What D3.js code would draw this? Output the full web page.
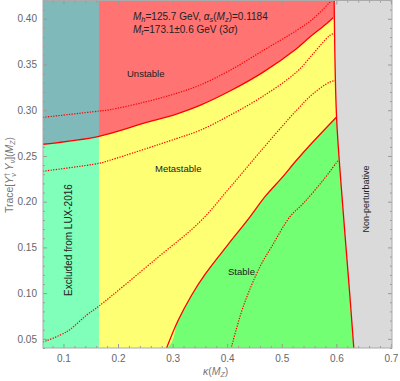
<!DOCTYPE html>
<html>
<head>
<meta charset="utf-8">
<script src="https://cdn.jsdelivr.net/npm/d3@7"></script>
<style>
  body { margin: 0; background: white; }
  svg { display: block; font-family: "Liberation Sans", Arial, sans-serif; }
</style>
</head>
<body>
<svg></svg>
<script>
// curves: kappa(Mz) vs Trace[Y^dag Y](Mz)
const unstableEdgeK = [0.0625, 0.165, 0.246, 0.307, 0.35, 0.405, 0.466, 0.527, 0.5515, 0.582, 0.594];
const unstableEdgeY = [0.2628, 0.2715, 0.2855, 0.2958, 0.3053, 0.321, 0.3417, 0.3673, 0.380, 0.3946, 0.4011];

const stableEdgeK = [0.289, 0.31, 0.335, 0.36, 0.40, 0.44, 0.47, 0.50, 0.527, 0.5515, 0.6004];
const stableEdgeY = [0.04, 0.07, 0.098, 0.121, 0.152, 0.182, 0.206, 0.226, 0.2453, 0.2617, 0.2926];

const perturbEdgeK = [0.596, 0.6004, 0.6095, 0.624, 0.632];
const perturbEdgeY = [0.42, 0.2926, 0.2125, 0.1033, 0.04];

// dotted 3 sigma bands
const dotUpperK = [0.0625, 0.165, 0.185, 0.246, 0.307, 0.35, 0.405, 0.466, 0.527, 0.5575, 0.591];
const dotUpperY = [0.2922, 0.2991, 0.3006, 0.3085, 0.3185, 0.3275, 0.3436, 0.3654, 0.3872, 0.400, 0.42];

const dotMetaK = [0.0625, 0.165, 0.185, 0.307, 0.35, 0.405, 0.466, 0.527, 0.5575, 0.588, 0.5955];
const dotMetaY = [0.2333, 0.242, 0.2453, 0.269, 0.278, 0.2945, 0.3155, 0.3417, 0.3618, 0.3818, 0.384];

const dotLowK = [0.0625, 0.1059, 0.1425, 0.165, 0.2707, 0.35, 0.405, 0.466, 0.527, 0.5575, 0.588, 0.599];
const dotLowY = [0.0465, 0.0578, 0.076, 0.0858, 0.138, 0.178, 0.2155, 0.2585, 0.2999, 0.3181, 0.3308, 0.3326];

const dotStableK = [0.408, 0.4293, 0.46, 0.4813, 0.5148, 0.5392, 0.5758, 0.6033];
const dotStableY = [0.0414, 0.0851, 0.1288, 0.1506, 0.1834, 0.198, 0.2234, 0.2453];

const luxLimit = 0.165;
const xDomain = [0.0625, 0.702];
const yDomain = [0.04, 0.42];
const xTicks = [0.1, 0.2, 0.3, 0.4, 0.5, 0.6, 0.7];
const yTicks = [0.05, 0.10, 0.15, 0.20, 0.25, 0.30, 0.35, 0.40];

const width = 400, height = 381;
const plotL = 43, plotR = 392, plotT = 0.5, plotB = 348;

const svg = d3.select("svg").attr("width", width).attr("height", height);

const x = d3.scaleLinear().domain(xDomain).range([plotL, plotR]);
const y = d3.scaleLinear().domain(yDomain).range([plotB, plotT]);

const pts = (ks, ys) => ks.map((k, i) => [k, ys[i]]);
const line = d3.line().x(d => x(d[0])).y(d => y(d[1]));
const smooth = d3.line().x(d => x(d[0])).y(d => y(d[1])).curve(d3.curveCatmullRom);

svg.append("clipPath").attr("id", "plot")
  .append("rect").attr("x", plotL).attr("y", plotT).attr("width", plotR - plotL).attr("height", plotB - plotT);

const g = svg.append("g").attr("clip-path", "url(#plot)");

const [k0, k1] = xDomain, [y0, y1] = yDomain;

// stable everywhere first, then paint over
g.append("rect").attr("x", plotL).attr("y", plotT).attr("width", plotR - plotL).attr("height", plotB - plotT)
  .attr("fill", "#73ff73");

const stable = pts(stableEdgeK, stableEdgeY);
g.append("path")
  .attr("d", smooth([[k0, y0]].concat(stable)) + line([[0.6004, 0.2926], [k1, 0.2926], [k1, y1], [k0, y1], [k0, y0]]).replace("M", "L"))
  .attr("fill", "#ffff73");

const unstable = pts(unstableEdgeK, unstableEdgeY);
g.append("path")
  .attr("d", smooth(unstable) + line([[0.594, 0.4011], [k1, 0.4011], [k1, y1], [k0, y1]]).replace("M", "L") + "Z")
  .attr("fill", "#ff7373");

const perturb = pts(perturbEdgeK, perturbEdgeY);
g.append("path")
  .attr("d", smooth(perturb) + line([[0.632, y0], [k1 + 0.01, y0], [k1 + 0.01, y1], [0.596, y1]]).replace("M", "L") + "Z")
  .attr("fill", "#dadada");

g.append("rect")
  .attr("x", x(k0)).attr("y", plotT)
  .attr("width", x(luxLimit) - x(k0)).attr("height", plotB - plotT)
  .attr("fill", "rgb(0,255,255)").attr("opacity", 0.5);

[
  [dotUpperK, dotUpperY],
  [dotMetaK, dotMetaY],
  [dotLowK, dotLowY],
  [dotStableK, dotStableY],
].forEach(([ks, ys]) => {
  g.append("path").attr("d", smooth(pts(ks, ys)))
    .attr("fill", "none").attr("stroke", "#ff0000")
    .attr("stroke-width", 1.2).attr("stroke-dasharray", "1.3,1.3");
});

[unstable, stable, perturb].forEach(p => {
  g.append("path").attr("d", smooth(p))
    .attr("fill", "none").attr("stroke", "#ff0000").attr("stroke-width", 1.3);
});

// frame with inward ticks
const tickColor = "#999";
function ticks(axis, transform, labels) {
  const a = svg.append("g").attr("transform", transform).call(axis);
  a.select(".domain").remove();
  a.selectAll("line").attr("stroke", tickColor);
  a.selectAll("text").attr("fill", "#666").style("font-size", "10px")
    .style("display", labels ? null : "none");
}
const yMinor = d3.range(0.04, 0.4201, 0.01).filter(v => !yTicks.some(t => Math.abs(t - v) < 1e-6));
const xMinor = d3.range(0.08, 0.70, 0.02).filter(v => !xTicks.some(t => Math.abs(t - v) < 1e-6));

ticks(d3.axisBottom(x).tickValues(xTicks).tickSize(-4).tickPadding(7).tickFormat(d3.format(".1f")), `translate(0,${plotB})`, true);
ticks(d3.axisBottom(x).tickValues(xMinor).tickSize(-2).tickFormat(""), `translate(0,${plotB})`, false);
ticks(d3.axisTop(x).tickValues(xTicks).tickSize(-4), `translate(0,${plotT})`, false);
ticks(d3.axisTop(x).tickValues(xMinor).tickSize(-2), `translate(0,${plotT})`, false);
ticks(d3.axisLeft(y).tickValues(yTicks).tickSize(-4).tickPadding(6).tickFormat(d3.format(".2f")), `translate(${plotL},0)`, true);
ticks(d3.axisLeft(y).tickValues(yMinor).tickSize(-2).tickFormat(""), `translate(${plotL},0)`, false);
ticks(d3.axisRight(y).tickValues(yTicks).tickSize(-4), `translate(${plotR},0)`, false);
ticks(d3.axisRight(y).tickValues(yMinor).tickSize(-2), `translate(${plotR},0)`, false);

svg.append("rect").attr("x", plotL).attr("y", plotT).attr("width", plotR - plotL).attr("height", plotB - plotT)
  .attr("fill", "none").attr("stroke", "#aaa").attr("stroke-width", 1);

// labels
const ink = "#222";
function label(px, py, size, parts, rotate) {
  const t = svg.append("text").attr("x", px).attr("y", py)
    .attr("fill", ink).style("font-size", size + "px");
  if (rotate) t.attr("transform", `rotate(-90,${px},${py})`).attr("text-anchor", "middle");
  parts.forEach(([s, opt]) => {
    const sp = t.append("tspan").text(s);
    if (opt && opt.it) sp.style("font-style", "italic");
    if (opt && opt.dy) sp.attr("dy", opt.dy);
    if (opt && opt.dx) sp.attr("dx", opt.dx);
    if (opt && opt.sz) sp.style("font-size", opt.sz + "px");
  });
  return t;
}

label(133, 20, 10, [
  ["M", {it: true}], ["h", {it: true, dy: 2, sz: 7.5}], ["=125.7 GeV, ", {dy: -2}],
  ["α", {it: true}], ["s", {it: true, dy: 2, sz: 7.5}], ["(", {dy: -2}],
  ["M", {it: true}], ["z", {it: true, dy: 2, sz: 7.5}], [")=0.1184", {dy: -2}],
]);
label(133, 33, 10, [
  ["M", {it: true}], ["t", {it: true, dy: 2, sz: 7.5}], ["=173.1±0.6 GeV (3", {dy: -2}],
  ["σ", {it: true}], [")"],
]);
label(127, 77, 9.5, [["Unstable"]]);
label(155, 172, 9.5, [["Metastable"]]);
label(228, 275, 9.5, [["Stable"]]);
label(72, 240, 10, [["Excluded from LUX-2016"]], true);
label(369, 199, 9, [["Non-perturbative"]], true);

// axis titles
const yt = label(13, 175, 10.5, [
  ["Trace["], ["Y", {it: true}], ["†", {dy: -4, sz: 7}], ["ν", {it: true, dx: -4, dy: 7, sz: 7}],
  [" "], ["Y", {it: true, dy: -3}], ["ν", {it: true, dy: 2, sz: 7}], ["](", {dy: -2}],
  ["M", {it: true}], ["Z", {it: true, dy: 2, sz: 7}], [")", {dy: -2}],
], true);
yt.attr("fill", "#777");

const xt = label(203, 375, 10.5, [
  ["κ", {it: true}], ["("], ["M", {it: true}], ["Z", {it: true, dy: 2, sz: 7}], [")", {dy: -2}],
]);
xt.attr("fill", "#777");
</script>
</body>
</html>
